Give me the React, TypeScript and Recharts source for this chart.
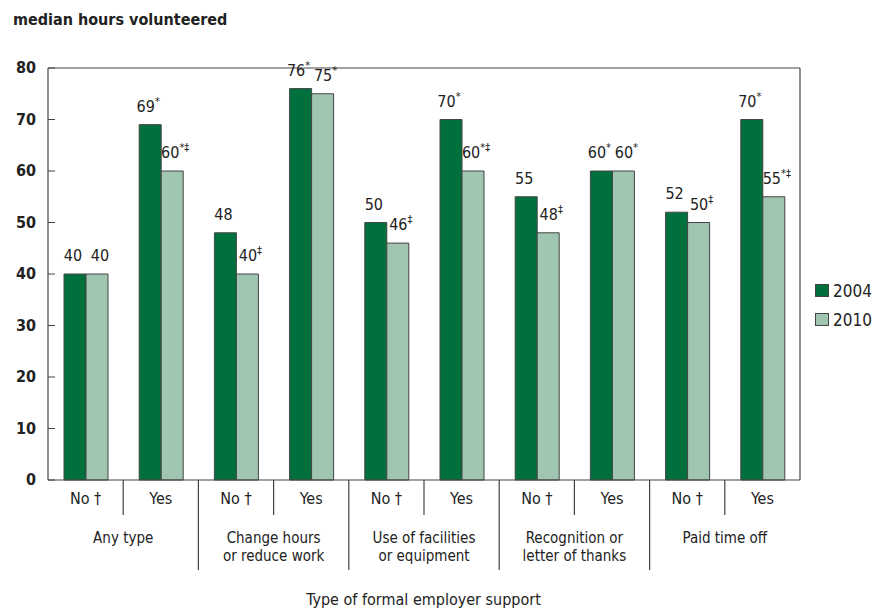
import React from 'react';
import { BarChart, Bar, XAxis, YAxis, ReferenceLine, LabelList } from 'recharts';

const subLabels = ['No †', 'Yes', 'No †', 'Yes', 'No †', 'Yes', 'No †', 'Yes', 'No †', 'Yes'];
const groupLabels = [
  ['Any type'],
  ['Change hours', 'or reduce work'],
  ['Use of facilities', 'or equipment'],
  ['Recognition or', 'letter of thanks'],
  ['Paid time off'],
];
const values2004 = [40, 69, 48, 76, 50, 70, 55, 60, 52, 70];
const values2010 = [40, 60, 40, 75, 46, 60, 48, 60, 50, 55];
const marks2004 = ['', '*', '', '*', '', '*', '', '*', '', '*'];
const marks2010 = ['', '*‡', '‡', '*', '‡', '*‡', '‡', '*', '‡', '*‡'];
const yTicks = [0, 10, 20, 30, 40, 50, 60, 70, 80];

const data = subLabels.map((s, i) => ({
  idx: i,
  sub: s,
  y2004: values2004[i],
  y2010: values2010[i],
}));

const FONT = "'DejaVu Sans Condensed', 'Liberation Sans Narrow', sans-serif";
const DARK = '#00703c';
const LIGHT = '#a0c6b1';
const LINE = '#444';

const W = 877;
const H = 616;
const PLOT_LEFT = 48;
const PLOT_RIGHT = 800;
const CAT_W = (PLOT_RIGHT - PLOT_LEFT) / subLabels.length;

const YTick = (props: any) => {
  const { x, y, payload } = props;
  return (
    <g>
      <line x1={x + 10} x2={x + 17} y1={y} y2={y} stroke={LINE} strokeWidth={1} />
      <text x={x - 2} y={y} dy={5} textAnchor="end" fontFamily={FONT} fontSize={16} fontWeight="bold" fill="#222">
        {payload.value}
      </text>
    </g>
  );
};

const XTick = (props: any) => {
  const { x, y, payload } = props;
  const i = payload.index ?? payload.value;
  const edge = x + CAT_W / 2;
  const isNo = i % 2 === 0;
  const last = i === subLabels.length - 1;
  const group = groupLabels[Math.floor(i / 2)];
  return (
    <g>
      <text x={x} y={y + 24} textAnchor="middle" fontFamily={FONT} fontSize={16} fill="#222">
        {subLabels[i]}
      </text>
      {!last && (
        <line x1={edge} x2={edge} y1={y} y2={isNo ? y + 35 : y + 90} stroke={LINE} strokeWidth={1.2} />
      )}
      {isNo && (
        <text x={edge} y={y + 63} textAnchor="middle" fontFamily={FONT} fontSize={15} fill="#222">
          {group.map((line, k) => (
            <tspan key={k} x={edge} dy={k === 0 ? 0 : 18}>
              {line}
            </tspan>
          ))}
        </text>
      )}
    </g>
  );
};

const makeLabel = (marks: string[], shift: number) => (props: any) => {
  const { x, y, width, value, index } = props;
  const cx = x + width / 2 + shift;
  return (
    <text x={cx} y={y - 13} fontFamily={FONT} fontSize={16} fill="#222" textAnchor="middle">
      <tspan>{value}</tspan>
      {marks[index] ? (
        <tspan dy={-7} dx={0} fontSize={11}>
          {marks[index]}
        </tspan>
      ) : null}
    </text>
  );
};

const legendItems = [
  { c: DARK, t: '2004' },
  { c: LIGHT, t: '2010' },
];

export default function App() {
  return (
    <div style={{ position: 'absolute', left: 0, top: 0, width: W, height: H, background: '#fff' }}>
      <div
        style={{
          position: 'absolute',
          left: 13,
          top: 10,
          fontFamily: FONT,
          fontSize: 16,
          fontWeight: 'bold',
          color: '#222',
        }}
      >
        median hours volunteered
      </div>
      <div
        style={{
          position: 'absolute',
          left: 0,
          width: W,
          top: 590,
          textAlign: 'center',
          fontFamily: FONT,
          fontSize: 16,
          color: '#222',
        }}
      >
        <span style={{ position: 'relative', left: -15 }}>Type of formal employer support</span>
      </div>
      <div
        style={{ position: 'absolute', left: 815, top: 276, fontFamily: FONT, fontSize: 17, color: '#222', zIndex: 2 }}
      >
        {legendItems.map((e) => (
          <div key={e.t} style={{ display: 'flex', alignItems: 'center', height: 29 }}>
            <span
              style={{
                display: 'inline-block',
                width: 12,
                height: 11,
                background: e.c,
                border: `1px solid ${LINE}`,
                marginRight: 4,
              }}
            />
            {e.t}
          </div>
        ))}
      </div>
      <BarChart
        width={W}
        height={H}
        data={data}
        margin={{ top: 68, right: W - PLOT_RIGHT - 1, bottom: 36, left: 8 }}
        barGap={0}
        barSize={22}
      >
        <XAxis
          dataKey="idx"
          type="category"
          height={100}
          axisLine={{ stroke: LINE, strokeWidth: 1.2 }}
          tickLine={false}
          tickSize={0}
          tickMargin={0}
          interval={0}
          tick={<XTick />}
        />
        <YAxis
          width={40}
          domain={[0, 80]}
          ticks={yTicks}
          tickSize={0}
          tickMargin={10}
          tickLine={false}
          axisLine={{ stroke: LINE, strokeWidth: 1.2 }}
          tick={<YTick />}
          interval={0}
        />
        <YAxis
          yAxisId="right"
          orientation="right"
          width={1}
          domain={[0, 80]}
          tick={false}
          tickLine={false}
          axisLine={{ stroke: LINE, strokeWidth: 1.2 }}
        />
        <ReferenceLine y={80} stroke={LINE} strokeWidth={1.2} />
        <Bar dataKey="y2004" name="2004" fill={DARK} stroke={LINE} strokeWidth={1} isAnimationActive={false}>
          <LabelList dataKey="y2004" content={makeLabel(marks2004, -2)} />
        </Bar>
        <Bar dataKey="y2010" name="2010" fill={LIGHT} stroke={LINE} strokeWidth={1} isAnimationActive={false}>
          <LabelList dataKey="y2010" content={makeLabel(marks2010, 3)} />
        </Bar>
      </BarChart>
    </div>
  );
}
